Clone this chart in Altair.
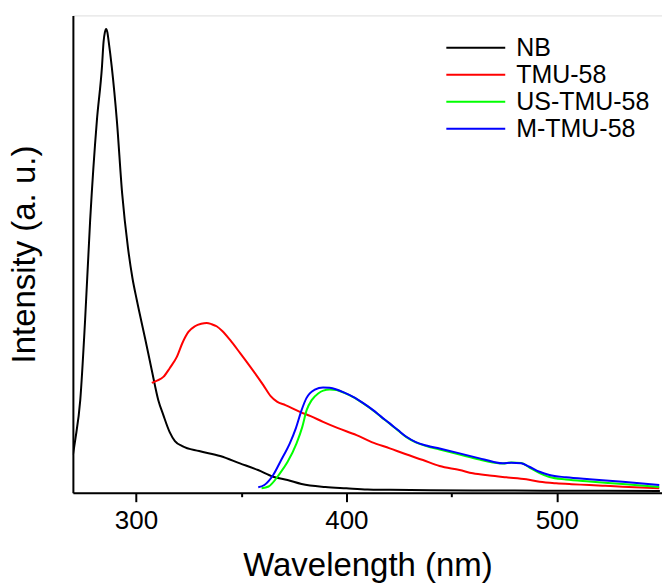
import altair as alt
import pandas as pd

# ---- data (arbitrary intensity units) ----
series_names = ["NB", "TMU-58", "US-TMU-58", "M-TMU-58"]
series_colors = ["#000000", "#ff0000", "#00ff00", "#0000ff"]

nb_nm = [270, 271.1, 273.5, 275.8, 278.2, 281.4, 283.8, 284.6, 285.2, 285.8, 286.4, 287.0,
         288.5, 290.9, 293.4, 296.2, 298.3, 300.4, 304.3, 307.5, 310.6, 313, 316, 318.5, 322, 330,
         340, 349.4, 358, 365.2, 372, 378.7, 390, 400, 410, 420, 440, 460, 480, 500, 520, 549]
nb_int = [37.7, 52.7, 92.7, 172.7, 272.7, 372.7, 426.0, 452, 461, 464.5, 461, 452,
          426.0, 372.7, 300, 245, 215, 192.7, 154.7, 122.7, 92.7, 77.7, 60.7, 51.7, 46.7, 41.7,
          36.7, 29.4, 22.7, 16.0, 12.7, 8.7, 5.7, 4.4, 3.2, 2.9, 2.4, 2.2, 2.1, 1.9, 1.9, 1.7]

tmu_nm = [307.5, 310, 313, 316, 319.4, 322, 324.9, 328, 331, 333.6, 336, 338.3, 341, 344.7,
          349.4, 352.6, 356.5, 360.5, 364, 367, 371, 377.9, 383, 388.9, 396, 404.8, 412,
          420.6, 428, 436.4, 444.3, 453.8, 460.1, 468, 476, 485.5, 491.8, 499.7, 507, 515.5,
          523, 531.3, 540, 548.7]
tmu_int = [110.0, 112.2, 116.0, 124.7, 136.0, 149.7, 161.0, 166.7, 169.2, 170.0, 168.7, 166.7,
           162.0, 153.0, 140.0, 131.0, 119.7, 107.7, 96.7, 91.2, 87.7, 81.0, 76.7, 71.0, 64.7,
           57.7, 50.7, 44.4, 38.7, 32.7, 26.7, 22.7, 19.4, 17.2, 15.4, 13.4, 11.0, 9.4, 8.5,
           7.7, 6.9, 6.0, 5.2, 4.4]

us_nm = [359.7, 363, 368.4, 372, 376.3, 379, 381.1, 383.5, 386.6, 389, 392.1, 395.3, 399,
         403.2, 408, 412.7, 416.5, 420.6, 424.5, 428.5, 433, 438, 444.3, 453.8, 463.3, 469.6,
         474.4, 478.3, 483.1, 487, 491.8, 496.5, 504.4, 515.5, 531.3, 548.7]
us_int = [4.4, 6.2, 19.4, 30.7, 49.4, 65.7, 82.7, 92.7, 99.4, 102.2, 103.4, 102.9, 99.9,
          95.7, 89.4, 82.4, 75.9, 69.1, 62.4, 55.7, 50.4, 46.7, 43.2, 38.2, 33.2, 30.2,
          29.2, 30.2, 29.7, 25.2, 19.7, 15.7, 13.2, 11.2, 8.7, 5.7]

m_nm = [358.1, 361, 365.2, 369, 373.1, 376, 378.7, 381, 382.6, 385, 388.9, 392, 395.3, 399,
        403.2, 408, 412.7, 416.5, 420.6, 424.5, 428.5, 433, 438, 444.3, 453.8, 463.3, 469.6,
        474.4, 478.3, 483.1, 487, 491.8, 496.5, 504.4, 515.5, 531.3, 548.7]
m_int = [5.4, 7.7, 17.7, 32.7, 49.4, 64.7, 82.7, 94.7, 99.4, 103.2, 105.4, 105.1, 103.4, 100.2,
         96.0, 89.7, 82.7, 76.2, 69.4, 62.7, 56.0, 50.7, 47.2, 44.2, 39.4, 34.4, 31.0,
         29.4, 30.0, 29.4, 26.0, 21.0, 17.7, 15.4, 13.4, 11.0, 7.7]

x_ticks = [300, 350, 400, 450, 500]

frames = []
for name, xs, ys in zip(series_names,
                        [nb_nm, tmu_nm, us_nm, m_nm],
                        [nb_int, tmu_int, us_int, m_int]):
    frames.append(pd.DataFrame({"wl": xs, "inten": ys, "series": name}))
df = pd.concat(frames, ignore_index=True)

FONT = "Liberation Sans"

chart = alt.Chart(df).mark_line(strokeWidth=2, interpolate="monotone", clip=True).encode(
    x=alt.X("wl:Q",
            scale=alt.Scale(domain=[270, 550], nice=False, zero=False),
            axis=alt.Axis(title="Wavelength (nm)", values=x_ticks, grid=False,
                          labelExpr="datum.value % 100 === 0 ? datum.label : ''",
                          tickSize={"condition": {"test": "datum.value % 100 === 0", "value": 9}, "value": 4},
                          tickWidth=2, tickColor="black",
                          domainWidth=2, domainColor="black",
                          labelFont=FONT, labelFontSize=26, labelColor="black",
                          labelPadding=6, labelFlush=False, labelOverlap=False,
                          titleFont=FONT, titleFontSize=33, titleFontWeight="normal",
                          titleColor="black", titlePadding=16)),
    y=alt.Y("inten:Q",
            scale=alt.Scale(domain=[0, 478], nice=False),
            axis=alt.Axis(title="Intensity (a. u.)", ticks=False, labels=False, grid=False,
                          domainWidth=2, domainColor="black",
                          titleFont=FONT, titleFontSize=33, titleFontWeight="normal",
                          titleColor="black", titlePadding=31)),
    color=alt.Color("series:N",
                    scale=alt.Scale(domain=series_names, range=series_colors),
                    legend=alt.Legend(title=None, orient="none", legendX=373, legendY=19,
                                      symbolType="stroke", symbolSize=3481,
                                      symbolStrokeWidth=2, clipHeight=27, rowPadding=0,
                                      labelOffset=10, labelFont=FONT, labelFontSize=25,
                                      labelColor="black")),
).properties(
    width=590, height=478,
    autosize=alt.AutoSizeParams(type="none"),
    padding={"left": 73, "top": 15, "right": 0, "bottom": 94},
).configure_view(stroke=None).configure(background="white")

chart.save("out.html", embed_options={"renderer": "svg", "actions": False})
